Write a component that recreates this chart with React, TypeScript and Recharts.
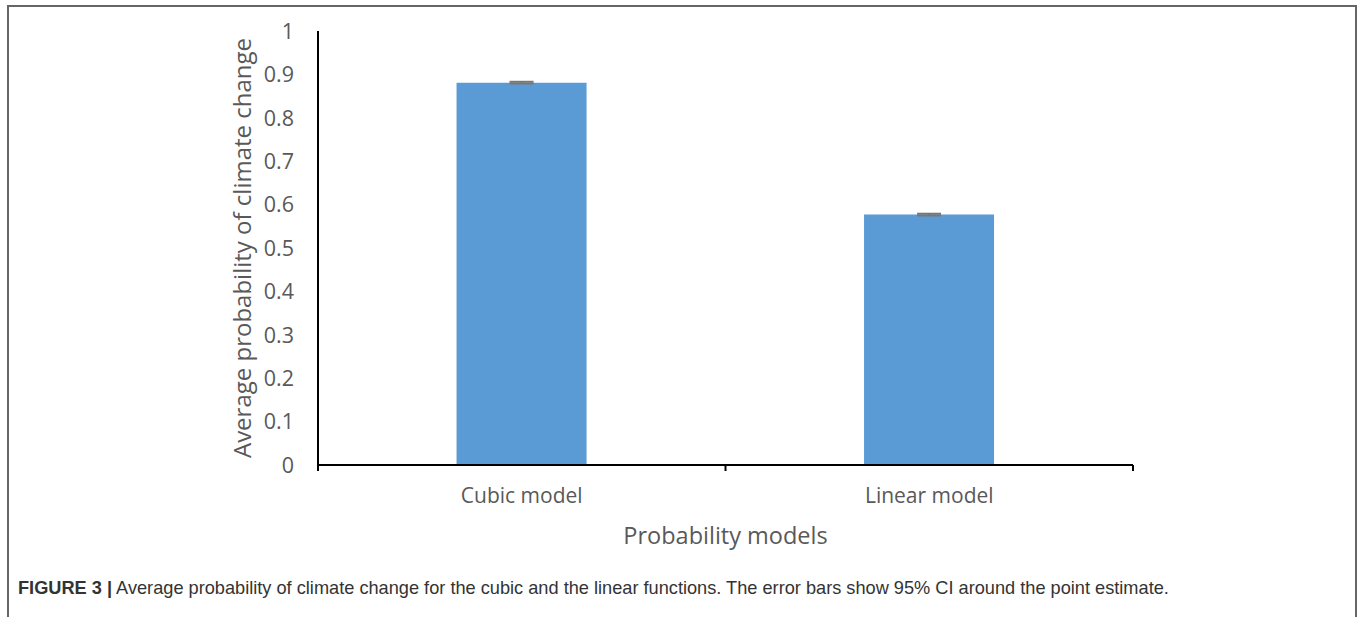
import { BarChart, Bar, XAxis, YAxis, ErrorBar } from 'recharts';

// categories and values
const models = ['Cubic model', 'Linear model'];
const avgProbability = [0.881, 0.577];
const ciHalfWidth = [0.002, 0.002];
const yTicks = [0, 0.1, 0.2, 0.3, 0.4, 0.5, 0.6, 0.7, 0.8, 0.9, 1];

const data = models.map((name, i) => ({
  name,
  value: avgProbability[i],
  err: ciHalfWidth[i],
}));

const FONT = '"Open Sans", "Noto Sans", sans-serif';
const TEXT_GRAY = '#595959';
const CHART_W = 1357;
const CHART_H = 560;
const MARGIN = { top: 31, right: 224, bottom: 15, left: 228 };
const Y_AXIS_W = 90;
const PLOT_W = CHART_W - MARGIN.left - Y_AXIS_W - MARGIN.right;
const HALF_BAND = PLOT_W / models.length / 2;

// excel-style ticks sit between categories, so draw them from the tick itself
const CategoryTick = (props: any) => {
  const { x, y, payload, index } = props;
  const last = index === models.length - 1;
  return (
    <g>
      <line x1={x - HALF_BAND} y1={y} x2={x - HALF_BAND} y2={y + 6} stroke="#000" strokeWidth={2} />
      {last && <line x1={x + HALF_BAND} y1={y} x2={x + HALF_BAND} y2={y + 6} stroke="#000" strokeWidth={2} />}
      <text x={x} y={y + 38} textAnchor="middle" fill={TEXT_GRAY} fontSize={21} fontFamily={FONT}>
        {payload.value}
      </text>
    </g>
  );
};

const ValueTick = (props: any) => {
  const { x, y, payload } = props;
  return (
    <text x={x - 24} y={y} dy="0.36em" textAnchor="end" fill={TEXT_GRAY} fontSize={21.5} fontFamily={FONT}>
      {payload.value}
    </text>
  );
};

const App = () => {
  return (
    <div style={{ position: 'absolute', left: 0, top: 0, width: 1357, height: 617, overflow: 'hidden', background: '#fff' }}>
      <div
        style={{
          position: 'absolute',
          left: 7,
          top: 5,
          width: 1346,
          height: 700,
          border: '2px solid #666',
        }}
      />
      <div style={{ position: 'absolute', left: 0, top: 0 }}>
        <BarChart width={CHART_W} height={CHART_H} data={data} margin={MARGIN} barCategoryGap="34%">
          <XAxis
            dataKey="name"
            height={80}
            axisLine={{ stroke: '#000', strokeWidth: 2 }}
            tickLine={false}
            tickSize={0}
            tickMargin={0}
            tick={<CategoryTick />}
            label={{
              content: ({ viewBox }: any) => (
                <text
                  x={viewBox.x + viewBox.width / 2}
                  y={viewBox.y + 79}
                  textAnchor="middle"
                  fill={TEXT_GRAY}
                  fontSize={23.5}
                  fontFamily={FONT}
                >
                  Probability models
                </text>
              ),
            }}
          />
          <YAxis
            width={Y_AXIS_W}
            domain={[0, 1]}
            ticks={yTicks}
            interval={0}
            axisLine={{ stroke: '#000', strokeWidth: 2 }}
            tickLine={false}
            tickSize={0}
            tickMargin={0}
            tick={<ValueTick />}
            label={{
              content: ({ viewBox }: any) => (
                <text
                  x={0}
                  y={0}
                  transform={`translate(${viewBox.x + 13}, ${viewBox.y + viewBox.height / 2}) rotate(-90)`}
                  textAnchor="middle"
                  dominantBaseline="central"
                  fill={TEXT_GRAY}
                  fontSize={24}
                  fontFamily={FONT}
                >
                  Average probability of climate change
                </text>
              ),
            }}
          />
          <Bar dataKey="value" fill="#5B9BD5" isAnimationActive={false}>
            <ErrorBar dataKey="err" width={12} stroke="#777" strokeWidth={2} />
          </Bar>
        </BarChart>
      </div>
      <div
        style={{
          position: 'absolute',
          left: 18,
          top: 578,
          fontFamily: '"Liberation Sans", Arial, sans-serif',
          fontSize: 18.2,
          color: '#333',
          whiteSpace: 'nowrap',
        }}
      >
        <b>FIGURE 3 |</b> Average probability of climate change for the cubic and the linear functions. The error bars show 95% CI around the point estimate.
      </div>
    </div>
  );
};

export default App;
